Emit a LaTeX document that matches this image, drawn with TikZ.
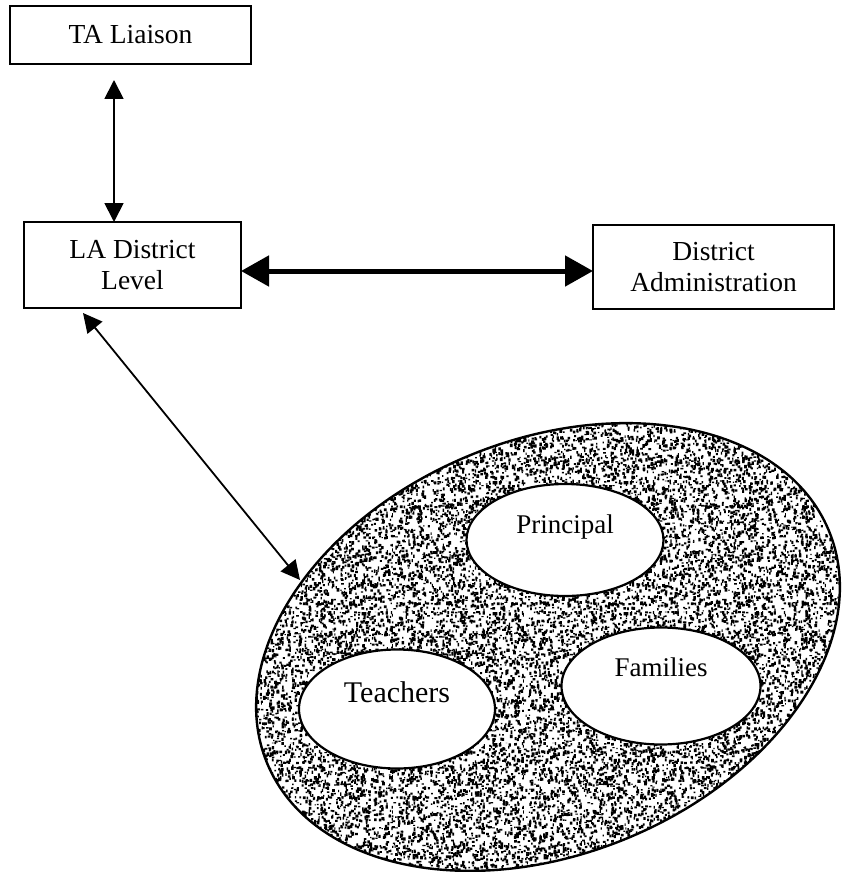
\documentclass[tikz,border=0pt]{standalone}
\usepackage{fontspec}
\setmainfont{Liberation Serif}
\usetikzlibrary{arrows.meta,shapes.geometric,patterns}

% random stipple tiles of two sizes, overlaid so the repeat is hard to see
\newcount\speckcount
\newcommand{\specktile}[3]{% tile size, number of specks, seed
  \pgfmathsetseed{#3}%
  \speckcount=0
  \loop
    \pgfmathsetmacro\speckx{#1*rnd}%
    \pgfmathsetmacro\specky{#1*rnd}%
    \pgfmathsetmacro\speckw{1.1+1.8*rnd}%
    \pgfmathsetmacro\speckh{1.1+2.4*rnd}%
    \pgfpathrectangle{\pgfpoint{\speckx pt}{\specky pt}}{\pgfpoint{\speckw pt}{\speckh pt}}%
    \advance\speckcount by 1
    \ifnum\speckcount<#2 \repeat
  \pgfusepath{fill}%
}
\pgfdeclarepatternformonly{specksA}{\pgfqpoint{0pt}{0pt}}{\pgfqpoint{97pt}{97pt}}%
  {\pgfqpoint{97pt}{97pt}}{\specktile{97}{400}{11}}
\pgfdeclarepatternformonly{specksB}{\pgfqpoint{0pt}{0pt}}{\pgfqpoint{131pt}{131pt}}%
  {\pgfqpoint{131pt}{131pt}}{\specktile{131}{700}{29}}

\begin{document}
\begin{tikzpicture}[x=1pt,y=-1pt,
  box/.style={draw, line width=1.8pt, rectangle, inner sep=0pt, outer sep=0pt,
    align=center, font=\fontsize{27.5}{31.5}\selectfont},
  group/.style={draw, ellipse, line width=2.2pt, fill=white, inner sep=0pt,
    outer sep=0pt, text height=10pt, text depth=24pt},
  thinlink/.style={line width=1.8pt,
    {Triangle[length=19pt,width=19pt]}-{Triangle[length=19pt,width=19pt]}},
  thicklink/.style={line width=5pt,
    {Triangle[length=28pt,width=30pt]}-{Triangle[length=28pt,width=30pt]}}]

\useasboundingbox (0,0) rectangle (841,872);

% stippled school area
\node[draw, ellipse, line width=2.4pt, minimum width=608pt, minimum height=414pt,
  rotate=22.5, inner sep=0pt, preaction={pattern=specksB}, pattern=specksA]
  (school) at (548,647) {};

% groups inside the school
\node[group, minimum width=197pt, minimum height=112pt,
  font=\fontsize{27}{31}\selectfont] (principal) at (565,540) {Principal};
\node[group, minimum width=199pt, minimum height=117pt, text depth=30pt,
  font=\fontsize{27}{31}\selectfont] (families) at (661,686) {Families};
\node[group, minimum width=196pt, minimum height=119pt,
  font=\fontsize{30}{34}\selectfont] (teachers) at (397,709) {Teachers};

% boxes
\node[box, minimum width=241pt, minimum height=58pt] (ta) at (130.5,35) {TA Liaison};
\node[box, minimum width=217pt, minimum height=86pt] (la) at (132.5,265) {LA District\\Level};
\node[box, minimum width=241pt, minimum height=84pt] (da) at (713.5,267) {District\\Administration};

% connectors
\draw[thinlink] ([xshift=-16.5pt,yshift=-16pt]ta.south) -- ([xshift=-18.5pt]la.north);
\draw[thicklink] ([yshift=-6pt]la.east) -- ([yshift=-4pt]da.west);
\coordinate (diagend) at (300,580);
\draw[thinlink] ([xshift=59pt,yshift=-5pt]la.south west) -- (diagend);
\end{tikzpicture}
\end{document}
